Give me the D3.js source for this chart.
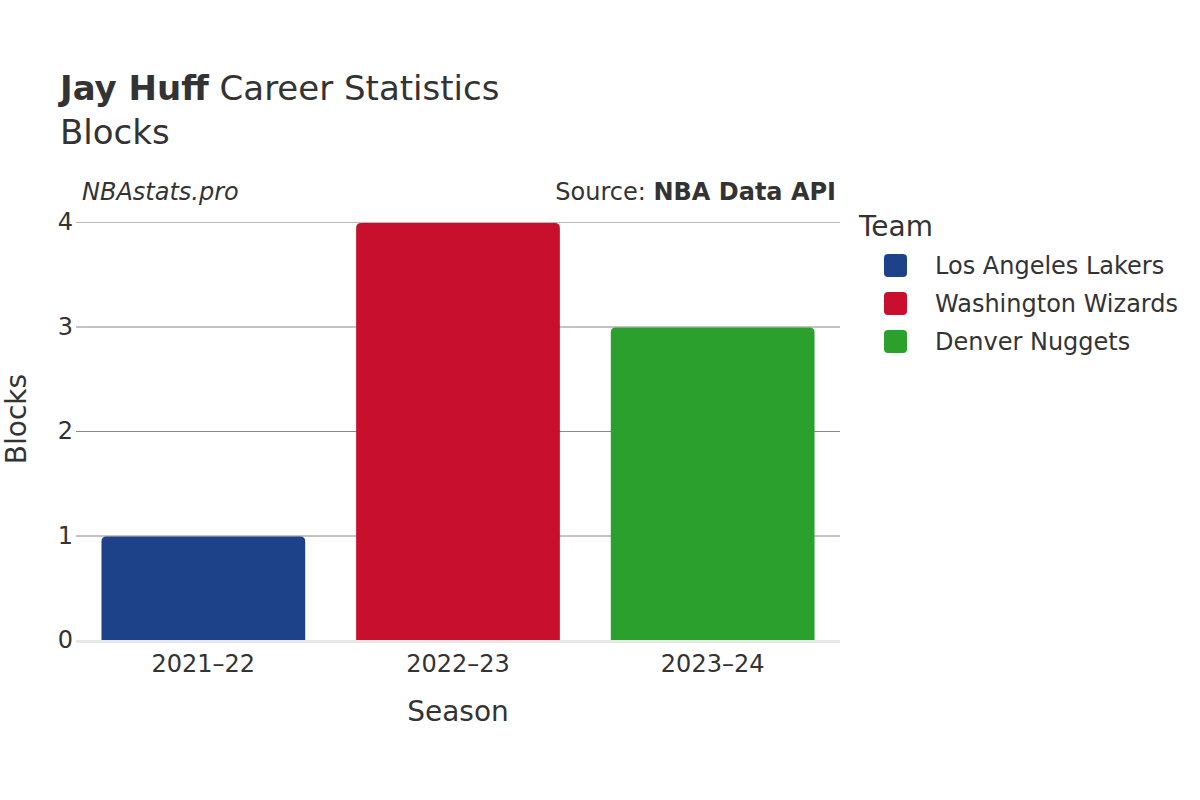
<!DOCTYPE html>
<html><head><meta charset="utf-8">
<script src="https://cdn.jsdelivr.net/npm/d3@7"></script>
<style>body{margin:0;background:#fff;} text{font-family:"DejaVu Sans",sans-serif;fill:#333;}</style>
</head><body>
<svg id="c" width="1200" height="800"></svg>
<script>
const seasons = ["2021\u201322", "2022\u201323", "2023\u201324"];
const teams = ["Los Angeles Lakers", "Washington Wizards", "Denver Nuggets"];
const blocks = [1, 4, 3];
const colors = ["#1d4289", "#c8102e", "#2ca02c"];
const yTicks = [0, 1, 2, 3, 4];

const svg = d3.select("#c");
const m = {l: 76, r: 840, t: 222, b: 640};
const x = d3.scaleBand().domain(seasons).range([m.l, m.r]).paddingInner(0.2).paddingOuter(0.1);
const y = d3.scaleLinear().domain([0, 4]).range([m.b, m.t]);

// grid
const yAxis = d3.axisLeft(y).tickValues(yTicks).tickSize(-(m.r - m.l)).tickFormat(d3.format("d"));
const gy = svg.append("g").attr("transform", `translate(${m.l},0)`).call(yAxis);
gy.select(".domain").remove();
gy.selectAll(".tick line").attr("stroke", d => d === 0 ? "none" : (d===4 ? "#bbb" : "#888")).attr("stroke-width", 1);
gy.selectAll(".tick text").attr("x", -3).attr("font-size", 24).style("fill", "#333").attr("font-family", "DejaVu Sans");

// bars
const r = 5;
function barPath(x0, w, yTop, yBot) {
  return `M${x0},${yBot} L${x0},${yTop + r} Q${x0},${yTop} ${x0 + r},${yTop} L${x0 + w - r},${yTop} Q${x0 + w},${yTop} ${x0 + w},${yTop + r} L${x0 + w},${yBot} Z`;
}
svg.append("g").selectAll("path").data(seasons).join("path")
  .attr("d", (s, i) => barPath(x(s), x.bandwidth(), y(blocks[i]) + 1, y(0)))
  .attr("fill", (s, i) => colors[i]);

// zero line
svg.append("line").attr("x1", m.l).attr("x2", m.r).attr("y1", y(0) + 1.5).attr("y2", y(0) + 1.5)
  .attr("stroke", "#e8e8e8").attr("stroke-width", 3);

// x axis
const xAxis = d3.axisBottom(x).tickSize(0);
const gx = svg.append("g").attr("transform", `translate(0,${m.b + 7})`).call(xAxis);
gx.select(".domain").remove();
gx.selectAll(".tick text").attr("font-size", 24).attr("dy", "0.9em").style("fill", "#333").attr("font-family", "DejaVu Sans");

// axis titles
svg.append("text").attr("x", (m.l + m.r) / 2).attr("y", 721).attr("text-anchor", "middle").attr("font-size", 28).text("Season");
svg.append("text").attr("transform", `translate(26,419) rotate(-90)`).attr("text-anchor", "middle").attr("font-size", 28).text("Blocks");

// title
const t = svg.append("text").attr("x", 60).attr("y", 100).attr("font-size", 34);
t.append("tspan").attr("font-weight", "bold").text("Jay Huff");
t.append("tspan").text(" Career Statistics");
svg.append("text").attr("x", 60).attr("y", 144).attr("font-size", 34).text("Blocks");

svg.append("text").attr("x", 82).attr("y", 200).attr("font-size", 24).attr("font-style", "italic").text("NBAstats.pro");
const s = svg.append("text").attr("x", 836).attr("y", 200).attr("font-size", 24).attr("text-anchor", "end");
s.append("tspan").text("Source: ");
s.append("tspan").attr("font-weight", "bold").text("NBA Data API");

// legend
svg.append("text").attr("x", 859).attr("y", 236).attr("font-size", 28).text("Team");
const lg = svg.append("g").selectAll("g").data(teams).join("g")
  .attr("transform", (d, i) => `translate(884,${265 + i * 38})`);
lg.append("rect").attr("x", 0).attr("y", -11).attr("width", 23).attr("height", 23).attr("rx", 4).attr("fill", (d, i) => colors[i]);
lg.append("text").attr("x", 51).attr("y", 9).attr("font-size", 24).text(d => d);
</script>
</body></html>
